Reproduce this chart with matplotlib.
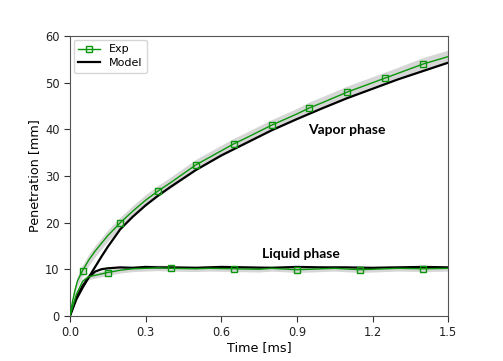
import numpy as np
import matplotlib.pyplot as plt

# Exp vapor penetration (mean and spread)
t_vap = [0, 0.01, 0.02, 0.03, 0.05, 0.075, 0.1, 0.15, 0.2, 0.25, 0.3, 0.35, 0.4,
         0.5, 0.6, 0.65, 0.7, 0.8, 0.9, 0.95, 1.0, 1.1, 1.2, 1.25, 1.3, 1.4, 1.5]
exp_vap = [0, 3.0, 5.5, 7.5, 9.7, 12.0, 13.9, 17.2, 20.0, 22.5, 24.8, 26.8, 28.6,
           32.4, 35.4, 36.9, 38.2, 40.9, 43.3, 44.6, 45.7, 48.0, 50.0, 51.0, 52.0, 54.0, 55.6]
std_vap = [0, 0.8, 1.0, 1.1, 1.2, 1.2, 1.2, 1.2, 1.2, 1.2, 1.2, 1.2, 1.2,
           1.2, 1.2, 1.2, 1.2, 1.2, 1.2, 1.3, 1.3, 1.3, 1.3, 1.3, 1.3, 1.4, 1.4]
mark_vap = [0.05, 0.2, 0.35, 0.5, 0.65, 0.8, 0.95, 1.1, 1.25, 1.4]

# Exp liquid length
t_liq = [0, 0.025, 0.05, 0.075, 0.1, 0.15, 0.2, 0.25, 0.3, 0.35, 0.4, 0.5, 0.55, 0.65,
         0.75, 0.8, 0.9, 1.0, 1.05, 1.15, 1.25, 1.3, 1.4, 1.5]
exp_liq = [0, 4.5, 7.4, 8.4, 8.7, 9.3, 9.8, 10.1, 10.2, 10.3, 10.2, 10.1, 10.2, 10.1,
           10.0, 10.2, 9.9, 10.1, 10.2, 9.9, 10.1, 10.2, 10.1, 10.2]
std_liq = [0, 0.6, 0.6, 0.6, 0.6, 0.6, 0.6, 0.6, 0.6, 0.6, 0.6, 0.6, 0.6, 0.6,
           0.6, 0.6, 0.6, 0.6, 0.6, 0.6, 0.6, 0.6, 0.6, 0.6]
mark_liq = [0.15, 0.4, 0.65, 0.9, 1.15, 1.4]

# Model
t_mod = [0, 0.025, 0.05, 0.075, 0.1, 0.125, 0.15, 0.2, 0.25, 0.3, 0.35, 0.4, 0.5, 0.6,
         0.7, 0.8, 0.9, 1.0, 1.1, 1.2, 1.3, 1.4, 1.5]
mod_vap = [0, 3.5, 6.0, 8.3, 10.5, 12.7, 14.8, 18.6, 21.3, 23.7, 25.8, 27.7, 31.3, 34.4,
           37.1, 39.8, 42.2, 44.5, 46.7, 48.7, 50.7, 52.5, 54.3]
mod_liq = [0, 3.8, 6.4, 8.3, 9.5, 10.0, 10.2, 10.4, 10.3, 10.5, 10.4, 10.4, 10.3, 10.5,
           10.4, 10.3, 10.5, 10.4, 10.4, 10.3, 10.4, 10.5, 10.4]

green = '#0a960a'
band = '#cccccc'

fig, ax = plt.subplots(figsize=(5.03, 3.61), dpi=100)
fig.subplots_adjust(left=0.139, right=0.891, top=0.9, bottom=0.125)

for t, y, s in [(t_vap, exp_vap, std_vap), (t_liq, exp_liq, std_liq)]:
    y = np.array(y)
    s = np.array(s)
    ax.fill_between(t, y - s, y + s, color=band, lw=0, alpha=0.8)

idx_vap = [i for i, t in enumerate(t_vap) if round(t, 3) in mark_vap]
idx_liq = [i for i, t in enumerate(t_liq) if round(t, 3) in mark_liq]

ax.plot(t_vap, exp_vap, '-s', color=green, lw=1, ms=5, mfc='none', mew=1,
        markevery=idx_vap, label='Exp', zorder=3)
ax.plot(t_liq, exp_liq, '-s', color=green, lw=1, ms=5, mfc='none', mew=1,
        markevery=idx_liq, zorder=3)
ax.plot(t_mod, mod_vap, 'k-', lw=1.6, label='Model', zorder=2)
ax.plot(t_mod, mod_liq, 'k-', lw=1.6, zorder=2)

ax.text(1.1, 39.8, 'Vapor phase', fontsize=10, family='Lato', fontweight='bold',
        ha='center', va='center')
ax.text(0.917, 13.2, 'Liquid phase', fontsize=10, family='Lato', fontweight='bold',
        ha='center', va='center')

ax.set_xlim(0, 1.5)
ax.set_ylim(0, 60)
ax.set_xticks([0.0, 0.3, 0.6, 0.9, 1.2, 1.5])
ax.set_yticks([0, 10, 20, 30, 40, 50, 60])
ax.tick_params(labelsize=8.3, length=4, color='#333333', labelcolor='#222222')
ax.set_xlabel('Time [ms]', fontsize=9.2, labelpad=1)
ax.set_ylabel('Penetration [mm]', fontsize=9.2, labelpad=3)
for sp in ax.spines.values():
    sp.set_color('#555555')

ax.legend(loc='upper left', fontsize=8, handlelength=2.0, borderaxespad=0.35,
          labelspacing=0.35)

fig.savefig('out.png', dpi=100)
